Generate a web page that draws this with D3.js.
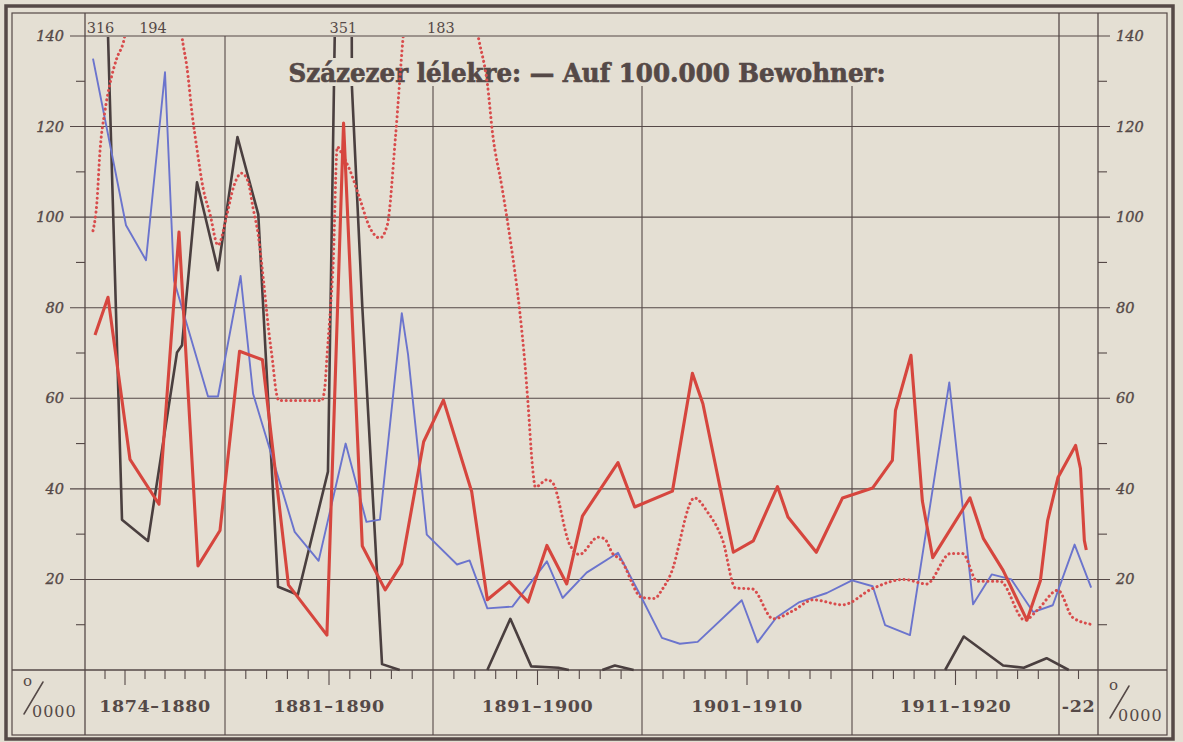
<!DOCTYPE html>
<html>
<head>
<meta charset="utf-8">
<title>Százezer lélekre — Auf 100.000 Bewohner</title>
<script src="https://cdn.jsdelivr.net/npm/d3@7/dist/d3.min.js"></script>
<style>
  html, body { margin: 0; padding: 0; background: #e4dfd3; }
  svg { display: block; }
</style>
</head>
<body>
<svg id="chart" width="1183" height="742"></svg>
<script>
// ---------------------------------------------------------------------------
// Rates per 100,000 inhabitants, 1874–1922 (four series, years as decimals)
// ---------------------------------------------------------------------------
const decadeLabels = ["1874–1880", "1881–1890", "1891–1900", "1901–1910", "1911–1920", "-22"];
const decadeStarts = [1874, 1881, 1891, 1901, 1911, 1921];
const decadeEnds   = [1881, 1891, 1901, 1911, 1921, 1923];
const yMajorTicks  = [20, 40, 60, 80, 100, 120, 140];
const yMinorTicks  = [10, 30, 50, 70, 90, 110, 130];
const titleText    = "Százezer lélekre: — Auf 100.000 Bewohner:";

// thin blue series
const blueYears = [1874.4, 1876.05, 1877.05, 1878.0, 1878.45, 1880.15, 1880.65, 1881.75, 1882.35, 1884.35,
  1885.5, 1886.8, 1887.8, 1888.45, 1889.5, 1889.8, 1890.7, 1892.15, 1892.75, 1893.6,
  1894.8, 1896.45, 1897.2, 1898.35, 1899.85, 1901.0, 1901.95, 1902.8, 1903.65, 1905.75,
  1906.5, 1907.4, 1908.5, 1909.8, 1911.0, 1912.0, 1912.6, 1913.8, 1915.7, 1916.85,
  1917.75, 1918.7, 1919.75, 1920.7, 1921.8, 1922.65];
const blueValues = [135, 98.2, 90.5, 132, 86, 60.4, 60.4, 87, 61, 30.5,
  24.1, 50, 32.7, 33.2, 78.8, 69.7, 29.9, 23.3, 24.2, 13.6,
  14, 24, 15.9, 21.5, 25.9, 15.8, 7.1, 5.8, 6.2, 15.4,
  6.1, 11.6, 15, 17, 19.8, 18.5, 9.9, 7.7, 63.5, 14.5,
  21.1, 20, 12.8, 14.3, 27.7, 18.2];

// heavy red series
const redYears = [1874.5, 1875.15, 1876.25, 1877.7, 1878.7, 1879.65, 1880.75, 1881.7, 1882.8, 1884.05,
  1885.9, 1886.7, 1887.6, 1888.7, 1889.5, 1890.55, 1891.5, 1892.85, 1893.6, 1894.65,
  1895.55, 1896.45, 1897.4, 1898.15, 1899.85, 1900.65, 1902.45, 1903.4, 1903.9, 1905.35,
  1906.3, 1907.45, 1907.95, 1909.3, 1910.55, 1912.0, 1912.95, 1913.1, 1913.85, 1914.4,
  1914.9, 1916.7, 1917.35, 1918.3, 1919.45, 1920.1, 1920.45, 1920.95, 1921.85, 1922.1,
  1922.3, 1922.4];
const redValues = [74, 82.3, 46.5, 36.6, 96.7, 23, 30.8, 70.4, 68.5, 18.8,
  7.7, 120.8, 27.4, 17.7, 23.5, 50.4, 59.6, 39.4, 15.5, 19.5,
  15, 27.5, 19, 34, 45.8, 36, 39.5, 65.5, 58.8, 26,
  28.5, 40.5, 33.8, 26, 38, 40.2, 46.3, 57.3, 69.5, 37.3,
  24.8, 38, 29, 22, 11, 19.7, 33, 42.5, 49.6, 44.5,
  28.6, 26.5];

// dotted red series (smooth curve)
const dotYears = [1874.4, 1874.6, 1874.75, 1875.0, 1875.25, 1875.6, 1875.9, 1877.35, 1878.9, 1879.1,
  1879.35, 1879.6, 1879.9, 1880.25, 1880.65, 1881.1, 1881.4, 1881.8, 1882.1, 1882.35,
  1882.6, 1882.85, 1883.1, 1883.3, 1883.45, 1883.6, 1884.6, 1885.65, 1885.8, 1885.9,
  1886.05, 1886.2, 1886.4, 1886.65, 1887.0, 1887.5, 1887.95, 1888.45, 1888.8, 1889.2,
  1889.55, 1891.2, 1893.2, 1893.6, 1893.85, 1894.3, 1894.7, 1895.15, 1895.4, 1895.55,
  1895.75, 1895.9, 1896.45, 1896.7, 1897.55, 1898.0, 1898.9, 1899.2, 1899.6, 1899.95,
  1901.0, 1901.6, 1901.95, 1902.35, 1903.5, 1904.1, 1904.85, 1905.45, 1906.25, 1907.25,
  1908.2, 1909.15, 1910.55, 1912.0, 1913.5, 1914.6, 1915.75, 1916.35, 1917.05, 1918.15,
  1919.35, 1919.95, 1920.95, 1921.7, 1922.75];
const dotValues = [97, 103.5, 114.6, 123.5, 129.5, 135.2, 138.3, 194, 138.3, 133,
  123, 115, 106.5, 100.7, 93.8, 100.7, 106.5, 109.7, 108, 102,
  96, 86, 75, 67.7, 61.7, 59.5, 59.5, 59.5, 62.4, 69,
  78.5, 89.6, 115.5, 113.7, 110.4, 103.8, 97.8, 95.4, 98.2, 117.9,
  139, 183, 139, 129.5, 118.5, 106.6, 94.9, 79.2, 67.5, 58.6,
  45.4, 40.4, 42, 41.5, 27.6, 25.5, 29.3, 29, 25.7, 24.5,
  16, 15.8, 17.7, 21, 38, 35, 28.5, 18.1, 17.9, 11.3,
  13.1, 15.5, 14.4, 18, 20, 19, 25.7, 25.7, 19.6, 19.6,
  11, 13.2, 17.6, 11.6, 10];

// black series (null = line interrupted where it lies on the zero line)
const blackYears = [1874.0, 1875.85, 1877.15, 1878.6, 1878.85, 1879.6, 1880.65, 1881.6, 1882.6, 1883.55,
  1884.5, 1885.95, 1886.99, 1887.1, 1887.6, 1888.55, 1889.4, 1891.0, 1893.6, 1894.7,
  1895.7, 1897.0, 1897.5, 1898.5, 1899.1, 1899.7, 1900.6, 1908.0, 1915.5, 1916.4,
  1918.3, 1919.3, 1920.4, 1921.5];
const blackValues = [316, 33.2, 28.5, 70.1, 71.7, 107.7, 88.3, 117.7, 100.6, 18.4,
  16.6, 43.8, 351, 129, 80.3, 1.3, 0, null, 0, 11.3,
  0.8, 0.5, 0, null, 0, 1, 0, null, 0, 7.4,
  1, 0.5, 2.6, 0];

// values beyond the top of the scale, written above the frame
const offScale = [
  { years: blackYears, values: blackValues, index: 0 },
  { years: dotYears,   values: dotValues,   index: 7 },
  { years: blackYears, values: blackValues, index: 12 },
  { years: dotYears,   values: dotValues,   index: 41 }
];

// ---------------------------------------------------------------------------
const W = 1183, H = 742;
const paper = "#e4dfd3";
const ink = "#554947";
const colors = { blue: "#6b74cd", red: "#d6463e", dotted: "#d84c4c", black: "#4a3f3f" };

const svg = d3.select("#chart");
svg.append("rect").attr("width", W).attr("height", H).attr("fill", paper);

const x = d3.scaleLinear()
  .domain([1874, 1881, 1891, 1901, 1911, 1921, 1923])
  .range([85, 225, 433, 642, 852, 1059, 1098]);
const y = d3.scaleLinear().domain([0, 140]).range([670, 36]);

const frame = { x0: 12, y0: 13, x1: 1167, y1: 735 };
const plot = { x0: x(1874), x1: x(1923), y0: y(140), y1: y(0) };
const titleBox = { x0: 286, x1: 888, y0: 58, y1: 86 };

// frames
svg.append("rect").attr("x", 6).attr("y", 6).attr("width", 1167).attr("height", 733)
  .attr("fill", "none").attr("stroke", ink).attr("stroke-width", 3.5);
svg.append("rect").attr("x", frame.x0).attr("y", frame.y0)
  .attr("width", frame.x1 - frame.x0).attr("height", frame.y1 - frame.y0)
  .attr("fill", "none").attr("stroke", ink).attr("stroke-width", 1.2);

// grid and axes
const grid = svg.append("g").attr("stroke", ink).attr("stroke-width", 1.1).attr("fill", "none");

grid.selectAll("line.major").data(yMajorTicks).join("line")
  .attr("x1", plot.x0 - 15).attr("x2", plot.x1 + 12)
  .attr("y1", d => y(d)).attr("y2", d => y(d));

grid.selectAll("line.minorL").data(yMinorTicks).join("line")
  .attr("x1", plot.x0 - 9).attr("x2", plot.x0)
  .attr("y1", d => y(d)).attr("y2", d => y(d));
grid.selectAll("line.minorR").data(yMinorTicks).join("line")
  .attr("x1", plot.x1).attr("x2", plot.x1 + 9)
  .attr("y1", d => y(d)).attr("y2", d => y(d));

// zero line across the whole frame
grid.append("line").attr("x1", frame.x0).attr("x2", frame.x1)
  .attr("y1", y(0)).attr("y2", y(0)).attr("stroke-width", 1.3);

// axes and the "-22" separator run up to the frame
[1874, 1921, 1923].forEach(yr => {
  grid.append("line").attr("x1", x(yr)).attr("x2", x(yr))
    .attr("y1", frame.y0).attr("y2", frame.y1).attr("stroke-width", 1.3);
});
// decade boundaries, interrupted by the heading
[1881, 1891, 1901, 1911].forEach(yr => {
  const xx = x(yr);
  const top = (xx > titleBox.x0 && xx < titleBox.x1) ? titleBox.y1 : plot.y0;
  grid.append("line").attr("x1", xx).attr("x2", xx)
    .attr("y1", top).attr("y2", frame.y1);
});

// year ticks under the zero line
const yearTicks = d3.range(1875, 1923).filter(yr => !decadeStarts.includes(yr));
grid.selectAll("line.yr").data(yearTicks).join("line")
  .attr("x1", d => x(d)).attr("x2", d => x(d))
  .attr("y1", y(0)).attr("y2", d => y(0) + (d % 10 === 6 ? 15 : 9));

// y labels, both sides
function yLabels(xPos, anchor) {
  svg.append("g").selectAll("text").data(yMajorTicks).join("text")
    .attr("x", xPos).attr("y", d => y(d) + 5)
    .attr("text-anchor", anchor)
    .attr("font-family", "DejaVu Serif").attr("font-style", "italic")
    .attr("font-size", 14.5).attr("fill", ink)
    .attr("stroke", ink).attr("stroke-width", 0.35)
    .text(d => d);
}
yLabels(plot.x0 - 21, "end");
yLabels(plot.x1 + 18, "start");

// decade labels
svg.append("g").selectAll("text").data(decadeLabels).join("text")
  .attr("x", (d, i) => (x(decadeStarts[i]) + x(decadeEnds[i])) / 2)
  .attr("y", 712)
  .attr("text-anchor", "middle")
  .attr("font-family", "DejaVu Serif").attr("font-weight", "bold")
  .attr("font-size", 17.5).attr("letter-spacing", 0.6)
  .attr("fill", ink)
  .text(d => d);

// per-100,000 sign in both corner boxes: small "o", a fraction stroke, "0000"
function perHundredThousand(x0, base) {
  const g = svg.append("g").attr("fill", ink);
  g.append("text").attr("x", x0 + 11).attr("y", base - 30)
    .attr("font-family", "DejaVu Serif").attr("font-size", 15).text("o");
  g.append("line")
    .attr("x1", x0 + 12).attr("y1", base - 2).attr("x2", x0 + 31).attr("y2", base - 34)
    .attr("stroke", ink).attr("stroke-width", 1.5).attr("stroke-linecap", "round");
  g.append("text").attr("x", x0 + 20).attr("y", base + 1)
    .attr("font-family", "DejaVu Serif").attr("font-size", 16)
    .attr("letter-spacing", 1).text("0000");
}
perHundredThousand(frame.x0, 716);
perHundredThousand(plot.x1, 720);

// clipping to the plotting area
svg.append("clipPath").attr("id", "plotClip").append("rect")
  .attr("x", plot.x0).attr("y", plot.y0 + 1)
  .attr("width", plot.x1 - plot.x0).attr("height", plot.y1 - plot.y0 + 6);

const toPoints = (years, values) => years.map((t, i) => ({ t, v: values[i] }));
const straight = d3.line().defined(d => d.v != null).x(d => x(d.t)).y(d => y(d.v));
const smooth = d3.line().curve(d3.curveMonotoneX).x(d => x(d.t)).y(d => y(d.v));

const series = svg.append("g").attr("clip-path", "url(#plotClip)")
  .attr("fill", "none").attr("stroke-linejoin", "round");

// black series lies under the heading
series.append("path").datum(toPoints(blackYears, blackValues))
  .attr("d", straight).attr("stroke", colors.black).attr("stroke-width", 2.6);

// heading with paper-coloured ground
svg.append("rect").attr("x", titleBox.x0).attr("y", titleBox.y0)
  .attr("width", titleBox.x1 - titleBox.x0).attr("height", titleBox.y1 - titleBox.y0)
  .attr("fill", paper);
svg.append("text").attr("x", (titleBox.x0 + titleBox.x1) / 2).attr("y", 82)
  .attr("text-anchor", "middle")
  .attr("font-family", "DejaVu Serif").attr("font-weight", "bold").attr("font-size", 26.5)
  .attr("textLength", 597).attr("lengthAdjust", "spacingAndGlyphs")
  .attr("fill", ink).attr("stroke", ink).attr("stroke-width", 0.7)
  .text(titleText);

// coloured series on top
const colored = svg.append("g").attr("clip-path", "url(#plotClip)")
  .attr("fill", "none").attr("stroke-linejoin", "round");
colored.append("path").datum(toPoints(blueYears, blueValues))
  .attr("d", straight).attr("stroke", colors.blue).attr("stroke-width", 1.9);
colored.append("path").datum(toPoints(dotYears, dotValues))
  .attr("d", smooth).attr("stroke", colors.dotted).attr("stroke-width", 3)
  .attr("stroke-linecap", "round").attr("stroke-dasharray", "0.1 4.6");
colored.append("path").datum(toPoints(redYears, redValues))
  .attr("d", straight).attr("stroke", colors.red).attr("stroke-width", 3.1);

// off-scale values: centred between the points where the line leaves the frame
function labelX(years, values, i) {
  const top = 140;
  let left = plot.x0 + 8, right = plot.x0 + 8;
  const a = i - 1, b = i + 1;
  if (a >= 0 && values[a] != null) {
    const f = (top - values[a]) / (values[i] - values[a]);
    left = x(years[a] + f * (years[i] - years[a]));
  }
  if (b < values.length && values[b] != null) {
    const f = (values[i] - top) / (values[i] - values[b]);
    right = x(years[i] + f * (years[b] - years[i]));
  }
  return (left + right) / 2;
}
svg.append("g").selectAll("text").data(offScale).join("text")
  .attr("x", d => labelX(d.years, d.values, d.index))
  .attr("y", 33)
  .attr("text-anchor", "middle")
  .attr("font-family", "DejaVu Serif").attr("font-size", 14.5)
  .attr("fill", ink)
  .text(d => d.values[d.index]);
</script>
</body>
</html>
